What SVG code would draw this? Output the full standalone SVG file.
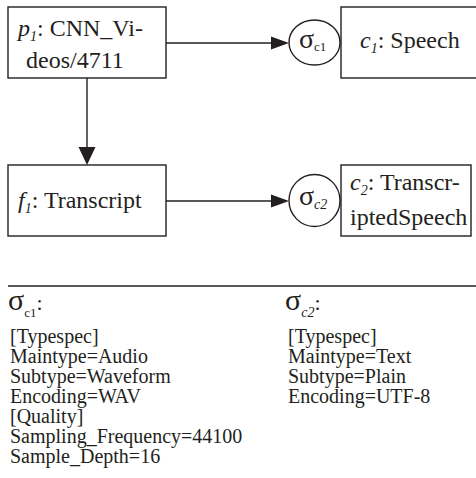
<svg xmlns="http://www.w3.org/2000/svg" width="476" height="478" viewBox="0 0 476 478">
<style>
.box{fill:#fff;stroke:#231f20;stroke-width:1.4}
.ln{stroke:#231f20;stroke-width:1.4;fill:none}
.ah{fill:#231f20}
.t{font-family:"Liberation Serif","Times New Roman",serif;font-size:24px;fill:#231f20}
.g{font-family:"Liberation Serif","Times New Roman",serif;font-size:28px;fill:#231f20}
.s{font-family:"Liberation Serif","Times New Roman",serif;font-size:20px;fill:#231f20}
.it{font-style:italic}
</style>
<rect width="476" height="478" fill="#fff"/>
<g id="connectors">
<line class="ln" x1="166" y1="43" x2="272" y2="43"/>
<polygon class="ah" points="271,36.5 289,43 271,49.5"/>
<line class="ln" x1="87" y1="78" x2="87" y2="148"/>
<polygon class="ah" points="78.5,147 95.5,147 87,165"/>
<line class="ln" x1="166" y1="201" x2="272" y2="201"/>
<polygon class="ah" points="271,194.5 289,201 271,207.5"/>
</g>
<g id="p1">
<rect class="box" x="8" y="7" width="158" height="71"/>
<text class="t" x="18" y="36"><tspan class="it">p</tspan><tspan class="it" font-size="14" dy="5">1</tspan><tspan dy="-5">: CNN_Vi-</tspan></text>
<text class="t" x="26" y="68">deos/4711</text>
</g>
<g id="sigma_c1">
<ellipse class="box" cx="314.5" cy="42.5" rx="25.5" ry="22.5"/>
<text class="g" x="299" y="48">σ<tspan font-size="13" dy="3">c1</tspan></text>
</g>
<g id="c1">
<rect class="box" x="341" y="7" width="150" height="71"/>
<text class="t" x="360" y="48"><tspan class="it">c</tspan><tspan class="it" font-size="14" dy="5">1</tspan><tspan dy="-5">: Speech</tspan></text>
</g>
<g id="f1">
<rect class="box" x="8" y="165" width="158" height="71"/>
<text class="t" x="18" y="208"><tspan class="it">f</tspan><tspan class="it" font-size="14" dy="5">1</tspan><tspan dy="-5">: Transcript</tspan></text>
</g>
<g id="sigma_c2">
<ellipse class="box" cx="314.5" cy="200.5" rx="25.5" ry="26"/>
<text class="g" x="299" y="205">σ<tspan class="it" font-size="14" dy="4">c2</tspan></text>
</g>
<g id="c2">
<rect class="box" x="341" y="165" width="130" height="71"/>
<text class="t" x="350" y="190"><tspan class="it">c</tspan><tspan class="it" font-size="14" dy="5">2</tspan><tspan dy="-5">: Transcr-</tspan></text>
<text class="t" x="350" y="225">iptedSpeech</text>
</g>
<g id="legend">
<line class="ln" x1="8" y1="286" x2="476" y2="286"/>
<text class="g" x="8" y="310" style="font-size:30px">σ<tspan font-size="13" dy="7">c1</tspan><tspan dy="-7" font-size="22">:</tspan></text>
<text class="s" x="10" y="343">[Typespec]</text>
<text class="s" x="10" y="363">Maintype=Audio</text>
<text class="s" x="10" y="383">Subtype=Waveform</text>
<text class="s" x="10" y="403">Encoding=WAV</text>
<text class="s" x="10" y="423">[Quality]</text>
<text class="s" x="10" y="443">Sampling_Frequency=44100</text>
<text class="s" x="10" y="463">Sample_Depth=16</text>
<text class="g" x="285" y="310" style="font-size:30px">σ<tspan class="it" font-size="14" dy="7">c2</tspan><tspan dy="-7" font-size="22">:</tspan></text>
<text class="s" x="288" y="343">[Typespec]</text>
<text class="s" x="288" y="363">Maintype=Text</text>
<text class="s" x="288" y="383">Subtype=Plain</text>
<text class="s" x="288" y="403">Encoding=UTF-8</text>
</g>
</svg>
